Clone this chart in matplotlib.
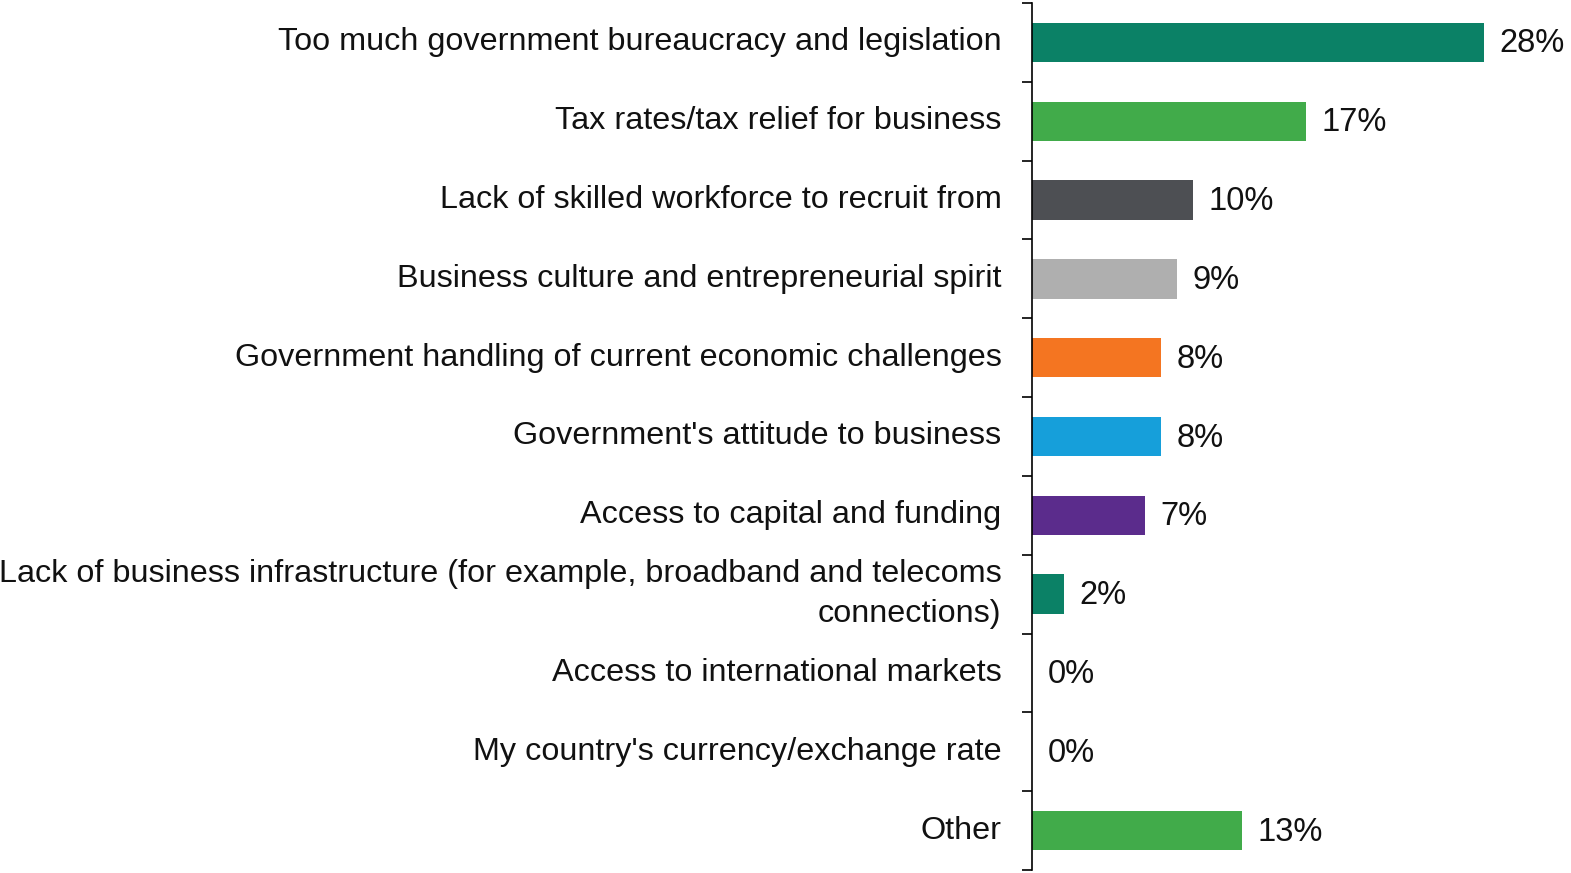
import matplotlib
matplotlib.use('Agg')
import matplotlib.pyplot as plt
import numpy as np

plt.rcParams['font.family'] = ['Liberation Sans', 'DejaVu Sans']

categories = [
    'Too much government bureaucracy and legislation',
    'Tax rates/tax relief for business',
    'Lack of skilled workforce to recruit from',
    'Business culture and entrepreneurial spirit',
    'Government handling of current economic challenges',
    "Government's attitude to business",
    'Access to capital and funding',
    'Lack of business infrastructure (for example, broadband and telecoms\nconnections)',
    'Access to international markets',
    "My country's currency/exchange rate",
    'Other',
]
values = [28, 17, 10, 9, 8, 8, 7, 2, 0, 0, 13]
colors = ['#0b8166', '#41ab4a', '#4d4f53', '#afafaf', '#f47521',
          '#169fda', '#5b2c8c', '#0b8166', '#0b8166', '#0b8166', '#41ab4a']

fig = plt.figure(figsize=(15.71, 8.73), dpi=100)
ax = fig.add_axes([1032/1571, 3/873, 1 - 1032/1571, 1 - 6/873])

y = np.arange(len(categories))
ax.barh(y, values, height=0.5, color=colors)
ax.set_ylim(len(categories) - 0.5, -0.5)
ax.set_xlim(0, 33.4)

for yi, v in zip(y, values):
    ax.text(v + 0.95, yi + 0.02, f'{v}%', va='center', ha='left', fontsize=23.5, color='#111111')

ax.set_yticks(y)
ax.set_yticklabels(categories, fontsize=23.3, color='#111111', ha='right')
for lbl in ax.get_yticklabels():
    lbl.set_linespacing(1.45)
    lbl.set_verticalalignment('center')
ax.tick_params(axis='y', which='major', length=0, pad=22)
ax.set_yticks(np.arange(-0.5, len(categories)), minor=True)
ax.tick_params(axis='y', which='minor', length=7, width=1.2, direction='out')
ax.set_xticks([])

for s in ['top', 'right', 'bottom']:
    ax.spines[s].set_visible(False)
ax.spines['left'].set_linewidth(1.2)

fig.savefig('out.png', dpi=100)
